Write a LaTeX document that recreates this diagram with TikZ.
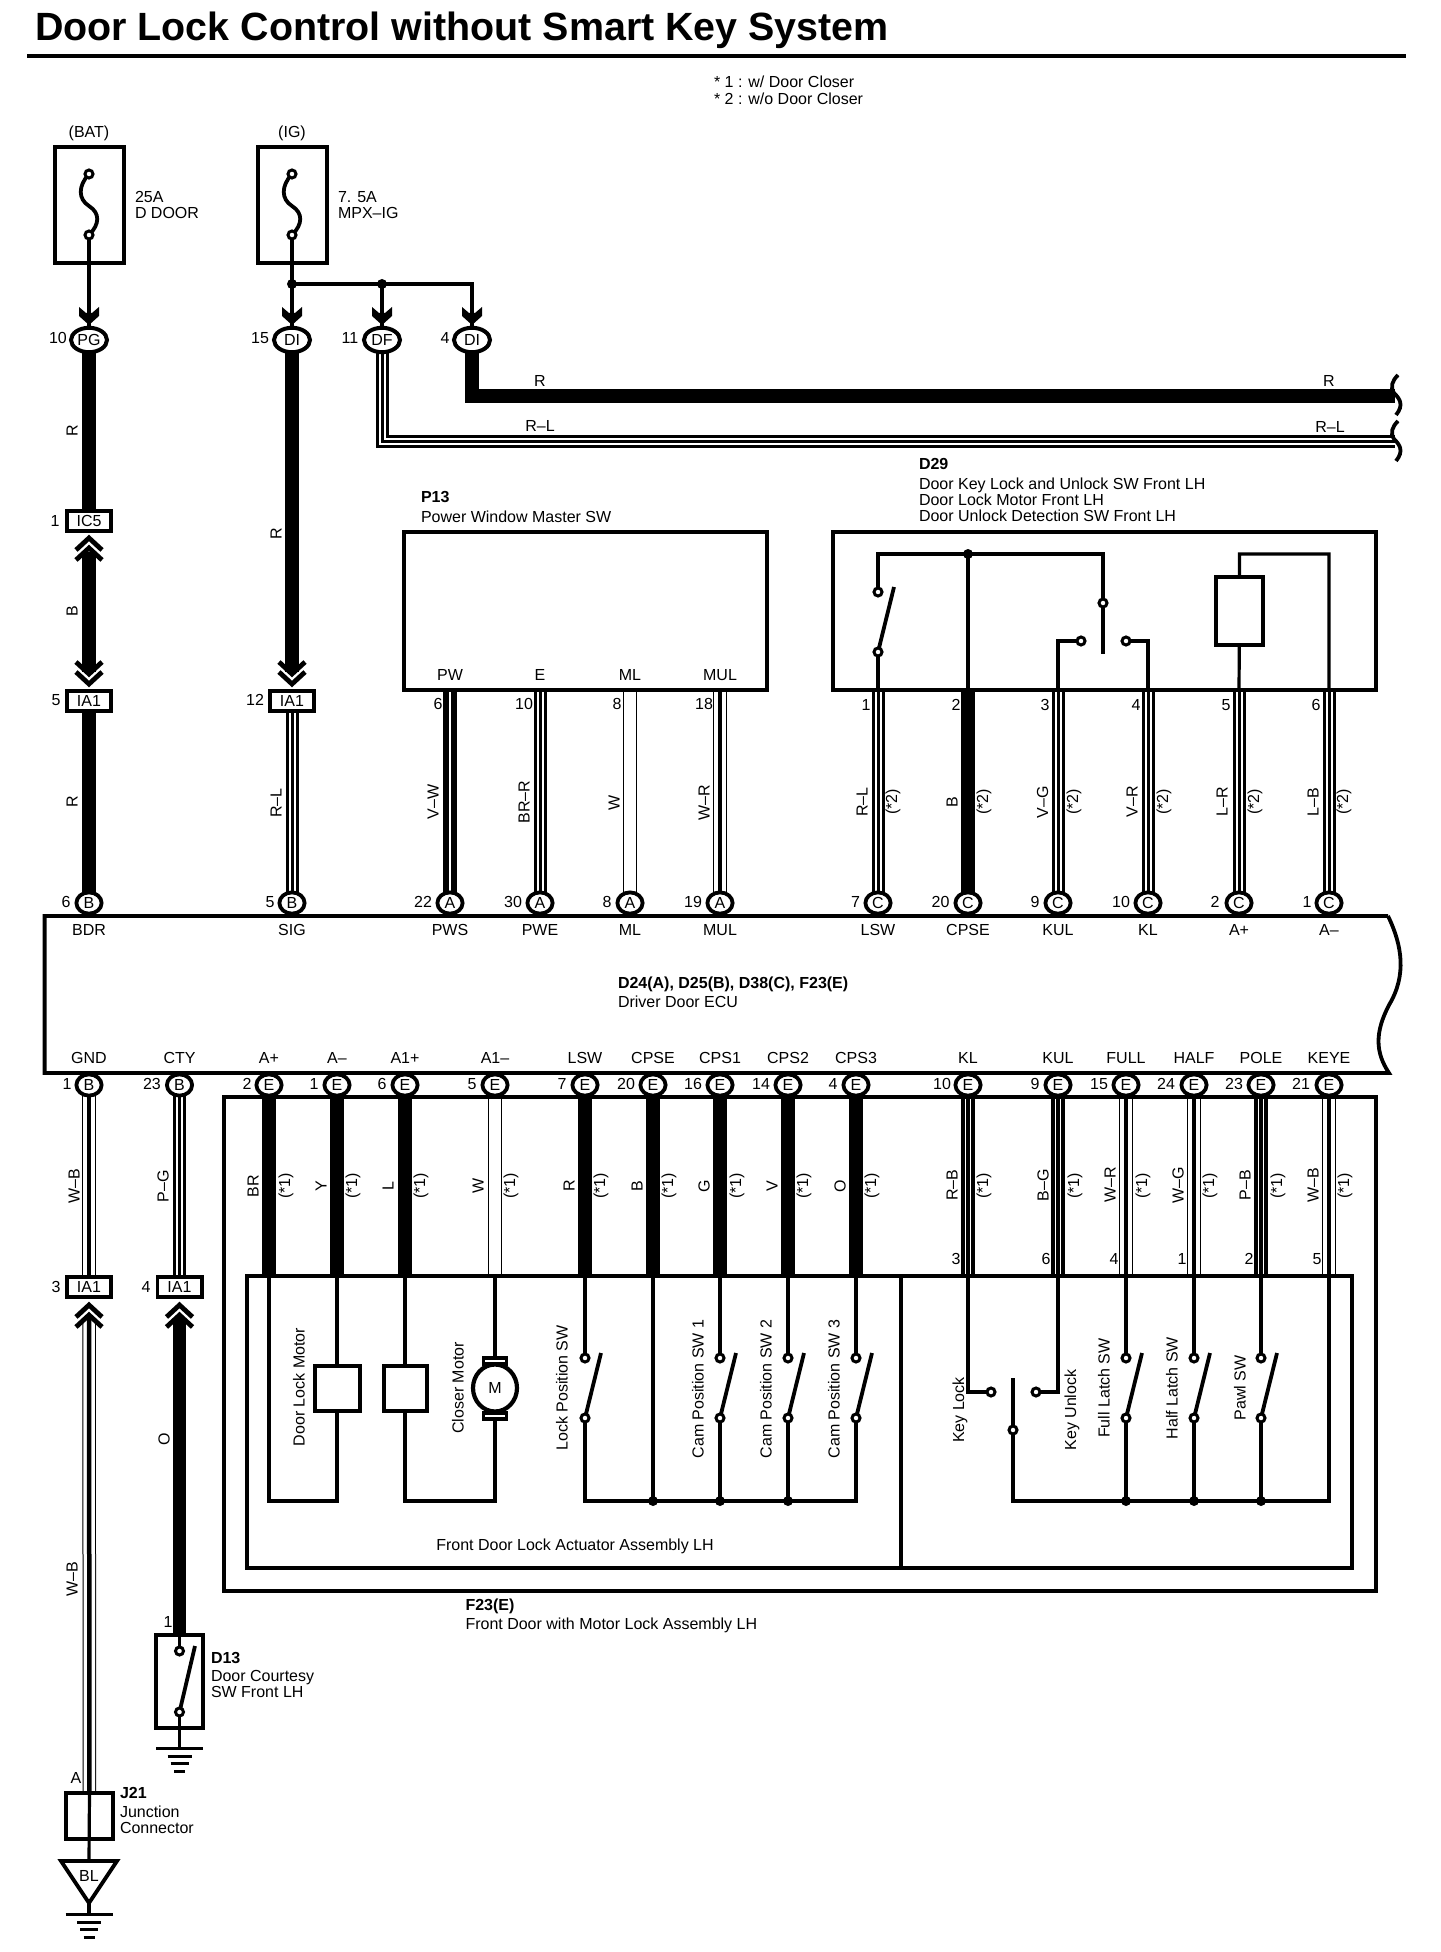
\documentclass[tikz,border=0pt]{standalone}
\usepackage{fontspec}
\setmainfont{Liberation Sans}
\usetikzlibrary{shapes.geometric,backgrounds}
\tikzset{
  every node/.append style={font=\fontsize{8}{8}\selectfont,inner sep=0pt,outer sep=0pt},
  ln/.style={line width=1.6pt},
  heavy/.style={line width=1.8pt},
  ibox/.style={draw,rectangle,line width=1.8pt},
  pinnode/.style={draw,ellipse,fill=white,line width=1.9pt,minimum width=12.6pt,minimum height=10.6pt},
  widepin/.style={draw,ellipse,fill=white,line width=2pt,minimum width=18pt,minimum height=12.2pt},
  conn/.style={draw,rectangle,fill=white,line width=1.8pt,minimum width=22.2pt,minimum height=10.2pt},
  term/.style={draw,circle,fill=white,line width=1.5pt,minimum size=4pt},
  dot/.style={circle,fill=black,minimum size=5pt},
  rot/.style={rotate=90},
  solidw/.style={line width=6.75pt},
  stripe/.style={preaction={draw=black,line width=6.5pt},preaction={draw=white,line width=3.5pt},line width=1.5pt},
  stripeh/.style={preaction={draw=black,line width=6.75pt},preaction={draw=white,line width=3.25pt},line width=1.75pt},
  dbl/.style={preaction={draw=black,line width=6.75pt},draw=white,line width=1pt},
  thinout/.style={preaction={draw=black,line width=6.75pt},preaction={draw=white,line width=5.75pt},line width=2.25pt},
  whitew/.style={preaction={draw=black,line width=7pt},draw=white,line width=6pt},
  chevpic/.pic={
    \draw[line width=2.4pt] (-13,12)--(0,0)--(13,12);
    \draw[line width=2.4pt] (-13,22)--(0,10)--(13,22);
  },
  arrpic/.pic={
    \fill (-10,0)--(-3,6)--(3,6)--(10,0)--(10,9)--(0,18)--(-10,9)--cycle;
  },
  gndpic/.pic={
    \draw[line width=1.5pt] (-23.5,0)--(23.5,0) (-12,8)--(12,8) (-9,15)--(9,15) (-5.5,23)--(5.5,23);
  },
  wavepic/.pic={
    \draw[line width=1.9pt] (3,-20) .. controls (-3,-14) and (-5,-8) .. (-1,-2) .. controls (5,4) and (9,10) .. (1,20);
  },
  fusepic/.pic={
    \coordinate (-t) at (0,0);
    \draw[line width=1.9pt] (0,0) .. controls (-11,12) and (-11,25) .. (0,32) .. controls (11,39) and (11,50) .. (0,61);
    \node[term] (-a) at (0,0) {};
    \node[term] (-b) at (0,61) {};
  },
}
\newcommand{\mkbox}[5]{\node[ibox,minimum width={(#4-#2)*0.5pt},minimum height={(#5-#3)*0.5pt}] (#1) at ({(#2+#4)/2},{(#3+#5)/2}) {};}
\newcommand{\mksw}[2]{%
  \node[term] (#1a) at (#2,1358) {};
  \node[term] (#1b) at (#2,1418) {};
  \coordinate (#1e) at ({#2+16},1353);
  \begin{pgfonlayer}{background}\draw[line width=1.9pt] (#1b.center) -- (#1e);\end{pgfonlayer}
}
\begin{document}
\begin{tikzpicture}[x=0.5pt,y=-0.5pt]
\useasboundingbox (0,0) rectangle (1440,1952);
% title
\node[anchor=west,font=\fontsize{19.7}{19.7}\selectfont\bfseries] (title) at (35,30) {Door Lock Control without Smart Key System};
\draw[line width=2.2pt] (27,56) -- (1406,56);
\node[anchor=west,align=left] (notes) at (714,90) {* 1 : w/ Door Closer\\[0.5pt]* 2 : w/o Door Closer};
% fuses
\node (bat) at (89,133) {(BAT)};
\node (ign) at (292,133) {(IG)};
\mkbox{fb1}{55}{147}{124}{263}
\mkbox{fb2}{258}{147}{327}{263}
\pic (f1) at (89,174) {fusepic};
\pic (f2) at (292,174) {fusepic};
\node[anchor=west,align=left] (f1t) at (135,205) {25A\\D DOOR};
\node[anchor=west,align=left] (f2t) at (338,205) {7. 5A\\MPX–IG};
\node[dot] (j1) at (292,284) {};
\node[dot] (j2) at (382,284) {};
% top pins
\foreach \n/\x/\t/\nx/\m in {pPG/89/PG/58/10, pDIa/292/DI/260/15, pDF/382/DF/350/11, pDIb/472/DI/445/4}{
  \node[widepin] (\n) at (\x,340) {\t};
  \node (\n l) at (\nx,338) {\m};
  \pic at (\x,307) {arrpic};
}
% in-line connectors
\node[conn] (ic5) at (89,521) {IC5};
\node (ic5n) at (55,521) {1};
\node[conn] (ia1a) at (89,701) {IA1};
\node (ia1an) at (56,700) {5};
\node[conn] (ia1b) at (292,701) {IA1};
\node (ia1bn) at (255,700) {12};
\node[conn] (ia1c) at (89,1287) {IA1};
\node (ia1cn) at (56,1287) {3};
\node[conn] (ia1d) at (179.5,1287) {IA1};
\node (ia1dn) at (146,1287) {4};
\coordinate (u1) at (89,552);
\coordinate (d1) at (89,672);
\coordinate (d2) at (292,672);
\coordinate (u3) at (89,1318);
\coordinate (u4) at (179.5,1318);
\pic at (89,538) {chevpic};
\pic[yscale=-1] at (89,684) {chevpic};
\pic[yscale=-1] at (292,684) {chevpic};
\pic at (89,1305) {chevpic};
\pic at (179.5,1305) {chevpic};
% P13 and D29
\node[anchor=west,align=left] (p13t) at (421,507) {\textbf{P13}\\[2pt]Power Window Master SW};
\mkbox{p13}{404}{532}{767}{690}
\node[anchor=west,align=left] (d29t) at (919,490) {\textbf{D29}\\[2pt]Door Key Lock and Unlock SW Front LH\\Door Lock Motor Front LH\\Door Unlock Detection SW Front LH};
\mkbox{d29}{833}{532}{1376}{690}
\foreach \n/\x/\t/\ny/\m in {pw/450/PW/438/6, pe/540/E/524/10, pml/630/ML/617/8, pmul/720/MUL/704/18}{
  \node (\n t) at (\x,675) {\t};
  \node (\n n) at (\ny,704) {\m};
  \coordinate (\n) at (\x,690);
}
\foreach \n/\x/\ny/\m in {d1/878/866/1, d2/968/956/2, d3/1058/1045/3, d4/1148/1136/4, d5/1239/1226/5, d6/1329/1316/6}{
  \node (\n n) at (\ny,705) {\m};
  \coordinate (\n b) at (\x,690);
}
% D29 interior
\coordinate (d29tl) at (878,554);
\node[dot] (d29j) at (968,554) {};
\coordinate (d29tr) at (1103,554);
\node[term] (lswa) at (878,592) {};
\node[term] (lswb) at (878,652) {};
\coordinate (lswe) at (894,587);
\node[term] (kula) at (1081,641) {};
\node[term] (kla) at (1126,641) {};
\node[term] (kc) at (1103,603) {};
\coordinate (kce) at (1103,654);
\node[ibox,fill=white,minimum width=23.5pt,minimum height=34pt] (d29coil) at (1239.5,611) {};
\coordinate (coilt) at (1329,554);
% ECU
\draw[line width=1.9pt] (1388,916) -- (44.6,916) -- (44.6,1073) -- (1389,1073)
   .. controls (1375,1052) and (1375,1032) .. (1389,1005)
   .. controls (1407,975) and (1402,945) .. (1388,916);
\node[anchor=west,align=left] (ecu) at (618,992) {\textbf{D24(A), D25(B), D38(C), F23(E)}\\[1.5pt]Driver Door ECU};
\foreach \t/\x in {BDR/89, SIG/292, PWS/450, PWE/540, ML/630, MUL/720, LSW/878, CPSE/968, KUL/1058, KL/1148, A+/1239, A–/1329}{
  \node (et\x) at (\x,930) {\t};
}
\foreach \t/\x in {GND/89, CTY/179.5, A+/269, A–/337, A1+/405, A1–/495, LSW/585, CPSE/653, CPS1/720, CPS2/788, CPS3/856, KL/968, KUL/1058, FULL/1126, HALF/1194, POLE/1261, KEYE/1329}{
  \node (eb\x) at (\x,1058) {\t};
}
% F23 boxes
\mkbox{f23o}{224}{1097}{1376}{1591}
\mkbox{f23i}{247}{1276}{1352}{1568}
\draw[heavy] (901,1276) -- (901,1568);
\node (fda) at (575,1546) {Front Door Lock Actuator Assembly LH};
\node[anchor=west,align=left] (f23t) at (465.5,1616) {\textbf{F23(E)}\\[1.5pt]Front Door with Motor Lock Assembly LH};
% pins above ECU
\foreach \n/\x/\t/\nx/\m in {pB6/89/B/66/6, pB5/292/B/270/5, pA22/450/A/423/22, pA30/540/A/513/30, pA8/630/A/607/8, pA19/720/A/693/19, pC7/878/C/855.5/7, pC20/968/C/940.5/20, pC9/1058/C/1035/9, pC10/1148/C/1121/10, pC2/1239/C/1215/2, pC1/1329/C/1307/1}{
  \node[pinnode] (\n) at (\x,903) {\t};
  \node (\n l) at (\nx,902) {\m};
}
% pins below ECU
\foreach \n/\x/\t/\nx/\m in {qB1/89/B/67/1, qB23/179.5/B/152/23, e2/269/E/247/2, e1/337/E/314/1, e6/405/E/382/6, e5/495/E/472/5, e7/585/E/562/7, e20/653/E/626/20, e16/720/E/693/16, e14/788/E/761/14, e4/856/E/833/4, e10/968/E/942/10, e9/1058/E/1035/9, e15/1126/E/1099/15, e24/1194/E/1166/24, e23/1261/E/1234/23, e21/1329/E/1301/21}{
  \node[pinnode] (\n) at (\x,1085) {\t};
  \node (\n l) at (\nx,1084) {\m};
}
% top-of-inner-box points
\foreach \n/\x in {i2/269, i1/337, i6/405, i5/495, i7/585, i20/653, i16/720, i14/788, i4/856, i10/968, i9/1058, i15/1126, i24/1194, i23/1261, i21/1329}{
  \coordinate (\n) at (\x,1276);
}
\foreach \x/\m in {956/3, 1046/6, 1114/4, 1182/1, 1249/2, 1317/5}{
  \node (fn\m) at (\x,1259) {\m};
}
% actuator interior
\node[ibox,fill=white,minimum width=22.4pt,minimum height=22.6pt] (coil1) at (337.5,1388.5) {};
\node[ibox,fill=white,minimum width=21.6pt,minimum height=22.6pt] (coil2) at (405.5,1388.5) {};
\node[draw,rectangle,fill=white,line width=1.8pt,minimum width=11.5pt,minimum height=3.2pt] (br1) at (495,1361) {};
\node[draw,rectangle,fill=white,line width=1.8pt,minimum width=11.5pt,minimum height=3.2pt] (br2) at (495,1416) {};
\node[draw,ellipse,fill=white,line width=2.1pt,minimum width=22pt,minimum height=23.5pt] (motor) at (495,1388) {M};
\mksw{sa}{585}
\mksw{sb}{720}
\mksw{sc}{788}
\mksw{sd}{856}
\mksw{se}{1126}
\mksw{sf}{1194}
\mksw{sg}{1261}
\coordinate (bA) at (269,1501);
\coordinate (bB) at (337,1501);
\coordinate (bC) at (405,1501);
\coordinate (bD) at (495,1501);
\coordinate (bE) at (585,1501);
\node[dot] (b20) at (653,1501) {};
\node[dot] (b16) at (720,1501) {};
\node[dot] (b14) at (788,1501) {};
\coordinate (bF) at (856,1501);
\node[term] (klt) at (991,1392) {};
\node[term] (kut) at (1036,1392) {};
\node[term] (kct) at (1013,1430) {};
\coordinate (kcu) at (1013,1378);
\coordinate (bG) at (1013,1501);
\node[dot] (b15) at (1126,1501) {};
\node[dot] (b24) at (1194,1501) {};
\node[dot] (b23) at (1261,1501) {};
\coordinate (bH) at (1329,1501);
% rotated interior labels
\foreach \t/\x/\y in {Door Lock Motor/299/1387, Closer Motor/458/1388, Lock Position SW/562/1388, Cam Position SW 1/698/1389, Cam Position SW 2/766/1389, Cam Position SW 3/834/1389, Key Lock/960/1410, Key Unlock/1072/1410, Full Latch SW/1104/1388, Half Latch SW/1172/1388, Pawl SW/1240/1388}{
  \node[rot] at (\x,\y) {\t};
}
% wire colour labels
\foreach \x/\y/\t in {72/431/R, 72/611/B, 72/802/R, 276/534/R, 276/803/R–L, 433/802/V–W, 524/802/BR–R, 614/803/W, 704/803/W–R, 862/802/R–L, 952/802/B, 1042.5/802/V–G, 1132/802/V–R, 1222/802/L–R, 1313/802/L–B, 74/1186/W–B, 163/1186/P–G, 253/1186/BR, 321/1186/Y, 388/1186/L, 478/1186/W, 569/1186/R, 637/1186/B, 704/1186/G, 772/1186/V, 840/1186/O, 952/1185/R–B, 1043/1185/B–G, 1110/1185/W–R, 1178/1185/W–G, 1245/1185/P–B, 1313/1185/W–B, 164/1439/O, 72/1579/W–B}{
  \node[rot] at (\x,\y) {\t};
}
\foreach \x in {893,984,1074,1164,1255,1344}{\node[rot] at (\x,802) {(*2)};}
\foreach \x in {286,353,421,511,601,669,737,804,872,984,1075,1143,1210,1278,1345}{\node[rot] at (\x,1186) {(*1)};}
\node (lr1) at (540,381) {R};
\node (lr2) at (1329,381) {R};
\node (lrl1) at (540,426) {R–L};
\node (lrl2) at (1330,427) {R–L};
\coordinate (rend) at (1395,396);
\coordinate (rlend) at (1395,442);
\pic at (1395,395) {wavepic};
\pic at (1395,441) {wavepic};
% D13 and J21
\node (d13n) at (168,1622) {1};
\mkbox{d13}{156}{1635}{203}{1728}
\node[term] (d13a) at (179.5,1651) {};
\node[term] (d13b) at (179.5,1712) {};
\coordinate (d13e) at (195,1646);
\coordinate (g1) at (179.5,1748);
\pic at (179.5,1748) {gndpic};
\node[anchor=west,align=left] (d13t) at (211,1675) {\textbf{D13}\\[1.2pt]Door Courtesy\\SW Front LH};
\node (ja) at (76,1778) {A};
\mkbox{j21}{66}{1793}{113}{1839}
\node[anchor=west,align=left] (j21t) at (120,1810.5) {\textbf{J21}\\[1.2pt]Junction\\Connector};
\draw[line width=1.9pt] (61,1861) -- (117,1861) -- (89,1903) -- cycle;
\node (bl) at (89,1876) {BL};
\coordinate (tri) at (89,1861);
\coordinate (triap) at (89,1903);
\coordinate (g2) at (89,1914);
\pic at (89,1914) {gndpic};
% all connectors under everything else
\begin{pgfonlayer}{background}
\draw[ln] (f1-b.center) -- (pPG.center);
\draw[ln] (f2-b.center) -- (pDIa.center);
\draw[ln] (j1.center) -- (j2.center) -| (pDIb.center);
\draw[ln] (j2.center) -- (pDF.center);
\draw[solidw] (pPG.center) -- (ic5.center);
\draw[solidw] (u1) -- (d1);
\draw[solidw] (ia1a.center) -- (pB6.center);
\draw[solidw] (pDIa.center) -- (d2);
\draw[stripe] (ia1b.center) -- (pB5.center);
\draw[solidw,line join=miter] (pDIb.center) |- (rend);
\draw[stripe,line join=miter] (pDF.center) |- (rlend);
\draw[dbl] (pw) -- (pA22.center);
\draw[stripe] (pe) -- (pA30.center);
\draw[whitew] (pml) -- (pA8.center);
\draw[thinout] (pmul) -- (pA19.center);
\draw[stripe] (d1b) -- (pC7.center);
\draw[solidw] (d2b) -- (pC20.center);
\draw[stripe] (d3b) -- (pC9.center);
\draw[stripe] (d4b) -- (pC10.center);
\draw[stripe] (d5b) -- (pC2.center);
\draw[stripe] (d6b) -- (pC1.center);
% D29 interior
\draw[ln,line join=miter] (lswa.center) |- (d29tr) -- (kc.center);
\draw[ln] (kc.center) -- (kce);
\draw[line width=1.9pt] (lswb.center) -- (lswe);
\draw[ln] (lswb.center) -- (d1b);
\draw[ln] (d29j.center) -- (d2b);
\draw[ln] (d3b) |- (kula.center);
\draw[ln] (d4b) |- (kla.center);
\draw[ln,line join=miter] (d5b) -- (d29coil.center) -- (d29coil.center |- coilt) -- (coilt) -- (d6b);
% lower wires
\draw[thinout] (qB1.center) -- (ia1c.center);
\draw[stripe] (qB23.center) -- (ia1d.center);
\draw[thinout] (u3) -- (j21.north);
\draw[solidw] (u4) -- (d13.north);
\draw[ln] (j21.north) -- (tri);
\draw[ln] (triap) -- (g2);
\draw[ln] (d13.north) -- (d13a.center);
\draw[ln] (d13b.center) -- (g1);
\draw[line width=1.9pt] (d13b.center) -- (d13e);
\draw[solidw] (e2.center) -- (i2);
\draw[solidw] (e1.center) -- (i1);
\draw[solidw] (e6.center) -- (i6);
\draw[whitew] (e5.center) -- (i5);
\draw[solidw] (e7.center) -- (i7);
\draw[solidw] (e20.center) -- (i20);
\draw[solidw] (e16.center) -- (i16);
\draw[solidw] (e14.center) -- (i14);
\draw[solidw] (e4.center) -- (i4);
\draw[stripeh] (e10.center) -- (i10);
\draw[stripeh] (e9.center) -- (i9);
\draw[thinout] (e15.center) -- (i15);
\draw[thinout] (e24.center) -- (i24);
\draw[stripeh] (e23.center) -- (i23);
\draw[thinout] (e21.center) -- (i21);
% actuator interior wires
\draw[ln,line join=miter] (i2) -- (bA) -- (bB) -- (i1);
\draw[ln,line join=miter] (i6) -- (bC) -- (bD) -- (i5);
\draw[ln] (i7) -- (saa.center);
\draw[ln,line join=miter] (sab.center) -- (bE) -- (bF) -- (sdb.center);
\draw[ln] (i20) -- (b20.center);
\draw[ln] (i16) -- (sba.center);
\draw[ln] (sbb.center) -- (b16.center);
\draw[ln] (i14) -- (sca.center);
\draw[ln] (scb.center) -- (b14.center);
\draw[ln] (i4) -- (sda.center);
\draw[ln] (i10) |- (klt.center);
\draw[ln] (i9) |- (kut.center);
\draw[ln] (kcu) -- (kct.center);
\draw[ln,line join=miter] (kct.center) -- (bG) -- (bH) -- (i21);
\draw[ln] (i15) -- (sea.center);
\draw[ln] (seb.center) -- (b15.center);
\draw[ln] (i24) -- (sfa.center);
\draw[ln] (sfb.center) -- (b24.center);
\draw[ln] (i23) -- (sga.center);
\draw[ln] (sgb.center) -- (b23.center);
\end{pgfonlayer}
\end{tikzpicture}
\end{document}
